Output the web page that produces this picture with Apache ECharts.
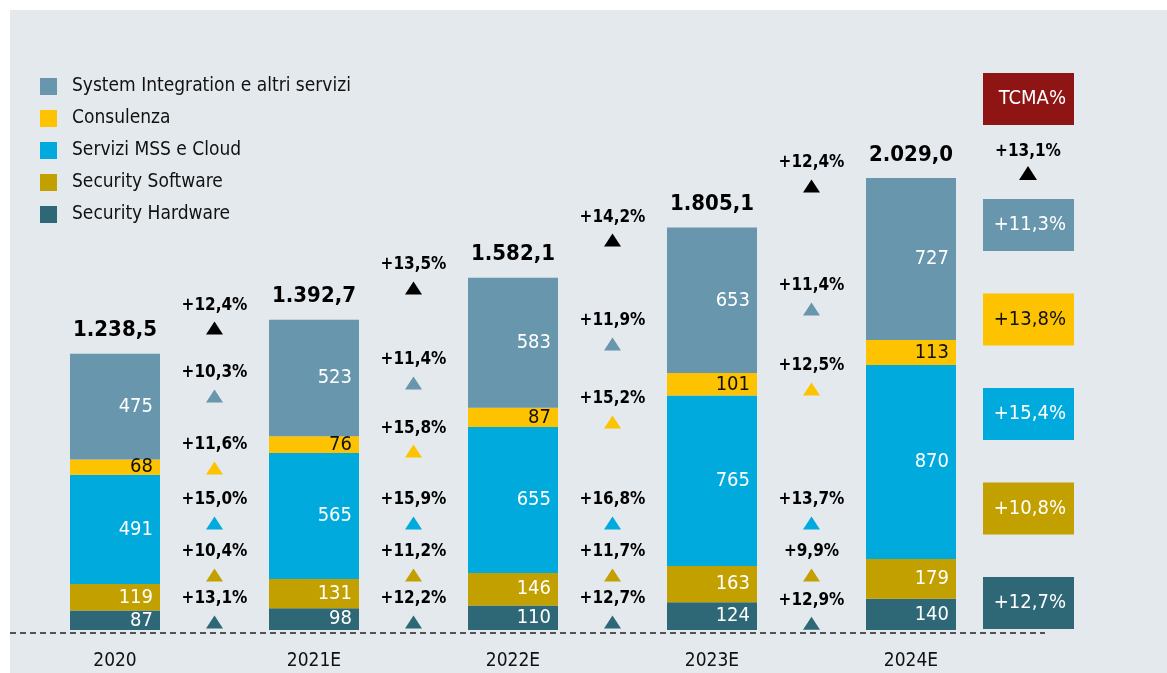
<!DOCTYPE html>
<html>
<head>
<meta charset="utf-8">
<script src="https://cdn.jsdelivr.net/npm/echarts@6/dist/echarts.min.js"></script>
<style>
html, body { margin: 0; padding: 0; background: #fff; }
#main { width: 1167px; height: 673px; }
</style>
</head>
<body>
<div id="main"></div>
<script>
// ---------------- dati ----------------
var categories = ['2020', '', '2021E', '', '2022E', '', '2023E', '', '2024E', ''];
var seriesNames = ['System Integration e altri servizi', 'Consulenza', 'Servizi MSS e Cloud', 'Security Software', 'Security Hardware'];
var hardware = [87, null, 98, null, 110, null, 124, null, 140, null];
var software = [119, null, 131, null, 146, null, 163, null, 179, null];
var mssCloud = [491, null, 565, null, 655, null, 765, null, 870, null];
var consulenza = [68, null, 76, null, 87, null, 101, null, 113, null];
var sysInt = [475, null, 523, null, 583, null, 653, null, 727, null];
var totals = [1240, null, 1393, null, 1581, null, 1806, null, 2029, null];
var totalLabels = ['1.238,5', '', '1.392,7', '', '1.582,1', '', '1.805,1', '', '2.029,0', ''];

// crescita anno su anno (tra le colonne): totale, SI, Consulenza, MSS, SW, HW
var growthTotal = ['+12,4%', '+13,5%', '+14,2%', '+12,4%'];
var growthSI = ['+10,3%', '+11,4%', '+11,9%', '+11,4%'];
var growthCons = ['+11,6%', '+15,8%', '+15,2%', '+12,5%'];
var growthMSS = ['+15,0%', '+15,9%', '+16,8%', '+13,7%'];
var growthSW = ['+10,4%', '+11,2%', '+11,7%', '+9,9%'];
var growthHW = ['+13,1%', '+12,2%', '+12,7%', '+12,9%'];

// TCMA
var tcmaTotal = '+13,1%';
var tcmaValues = ['+11,3%', '+13,8%', '+15,4%', '+10,8%', '+12,7%'];

// ---------------- layout ----------------
var gapIdx = [1, 3, 5, 7];
// altezza dei triangoli nella scala dell'asse y
var posTotal = [1355, 1535, 1750, 1993];
var posSI = [1050, 1109, 1284, 1441];
var posCons = [727, 803, 934, 1082];
var posMSS = [480, 480, 480, 480];
var posSW = [247, 247, 247, 247];
var posHW = [36, 36, 36, 30];

var colors = ['#6796ad', '#fdc300', '#00aadc', '#c2a000', '#2e6776'];
var fontCond = "'Liberation Sans Narrow', 'DejaVu Sans Condensed', 'Roboto', sans-serif";

var dom = document.getElementById('main');
var chart = echarts.init(dom);

function barSeries(name, data, color, labelColor) {
    return {
        name: name,
        type: 'bar',
        stack: 'tot',
        barWidth: 90,
        barGap: '-100%',
        data: data,
        itemStyle: { color: color },
        label: {
            show: true,
            position: 'insideRight',
            distance: 7,
            color: labelColor,
            fontFamily: fontCond,
            fontSize: 20
        }
    };
}

function growthSeries(id, labels, pos, color) {
    var pts = [];
    for (var i = 0; i < gapIdx.length; i++) {
        pts.push([gapIdx[i], pos[i]]);
    }
    return {
        name: id,
        type: 'scatter',
        symbol: 'triangle',
        symbolSize: [17, 13],
        itemStyle: { color: color, opacity: 1 },
        data: pts,
        label: {
            show: true,
            position: 'top',
            distance: 8,
            color: '#000',
            fontWeight: 'bold',
            fontFamily: fontCond,
            fontSize: 17,
            formatter: function (p) { return labels[p.dataIndex]; }
        }
    };
}

// riquadri TCMA
var graphics = [
    { type: 'rect', shape: { x: 10, y: 10, width: 1157, height: 663 }, style: { fill: '#e4e9ed' }, z: -10 },
    { type: 'line', shape: { x1: 10, y1: 633, x2: 1045, y2: 633 }, style: { stroke: '#222', lineWidth: 1.5, lineDash: [6, 4] } },
    { type: 'rect', shape: { x: 983, y: 73, width: 91, height: 52 }, style: { fill: '#8f1414' } },
    { type: 'text', x: 1066, y: 99, style: { text: 'TCMA%', fill: '#fff', font: '20px ' + fontCond, align: 'right', verticalAlign: 'middle' } },
    { type: 'text', x: 1028, y: 152, style: { text: tcmaTotal, fill: '#000', font: 'bold 17px ' + fontCond, align: 'center', verticalAlign: 'middle' } },
    { type: 'polygon', shape: { points: [[1028, 166], [1037, 180], [1019, 180]] }, style: { fill: '#000' } }
];
for (var k = 0; k < tcmaValues.length; k++) {
    var boxY = 199 + k * 94.5;
    graphics.push({ type: 'rect', shape: { x: 983, y: boxY, width: 91, height: 52 }, style: { fill: colors[k] } });
    graphics.push({ type: 'text', x: 1066, y: boxY + 26, style: { text: tcmaValues[k], fill: k == 1 ? '#111' : '#fff', font: '20px ' + fontCond, align: 'right', verticalAlign: 'middle' } });
}

var option = {
    backgroundColor: '#ffffff',
    animation: false,
    graphic: graphics,
    legend: {
        data: seriesNames,
        orient: 'vertical',
        left: 35,
        top: 72,
        itemWidth: 17,
        itemHeight: 17,
        itemGap: 13,
        icon: 'rect',
        textStyle: { color: '#111', fontFamily: fontCond, fontSize: 19, padding: [0, 0, 0, 10] },
        selectedMode: false
    },
    grid: { left: 65.25, right: 106.75, top: 73, bottom: 43 },
    xAxis: {
        type: 'category',
        data: categories,
        axisLine: { show: false },
        axisTick: { show: false },
        axisLabel: { color: '#111', fontFamily: fontCond, fontSize: 19, margin: 22 }
    },
    yAxis: {
        type: 'value',
        min: 0,
        max: 2500,
        show: false,
        splitLine: { show: false }
    },
    series: [
        barSeries(seriesNames[4], hardware, colors[4], '#fff'),
        barSeries(seriesNames[3], software, colors[3], '#fff'),
        barSeries(seriesNames[2], mssCloud, colors[2], '#fff'),
        barSeries(seriesNames[1], consulenza, colors[1], '#111'),
        barSeries(seriesNames[0], sysInt, colors[0], '#fff'),
        {
            name: 'totale',
            type: 'bar',
            barWidth: 90,
            barGap: '-100%',
            data: totals,
            itemStyle: { color: 'rgba(0,0,0,0)' },
            z: 1,
            label: {
                show: true,
                position: 'top',
                distance: 12,
                color: '#000',
                fontWeight: 'bold',
                fontFamily: fontCond,
                fontSize: 22,
                formatter: function (p) { return totalLabels[p.dataIndex]; }
            }
        },
        growthSeries('gTot', growthTotal, posTotal, '#000'),
        growthSeries('gSI', growthSI, posSI, colors[0]),
        growthSeries('gCons', growthCons, posCons, colors[1]),
        growthSeries('gMSS', growthMSS, posMSS, colors[2]),
        growthSeries('gSW', growthSW, posSW, colors[3]),
        growthSeries('gHW', growthHW, posHW, colors[4])
    ]
};

if (option && typeof option === 'object') {
    chart.setOption(option, true);
}
</script>
</body>
</html>
